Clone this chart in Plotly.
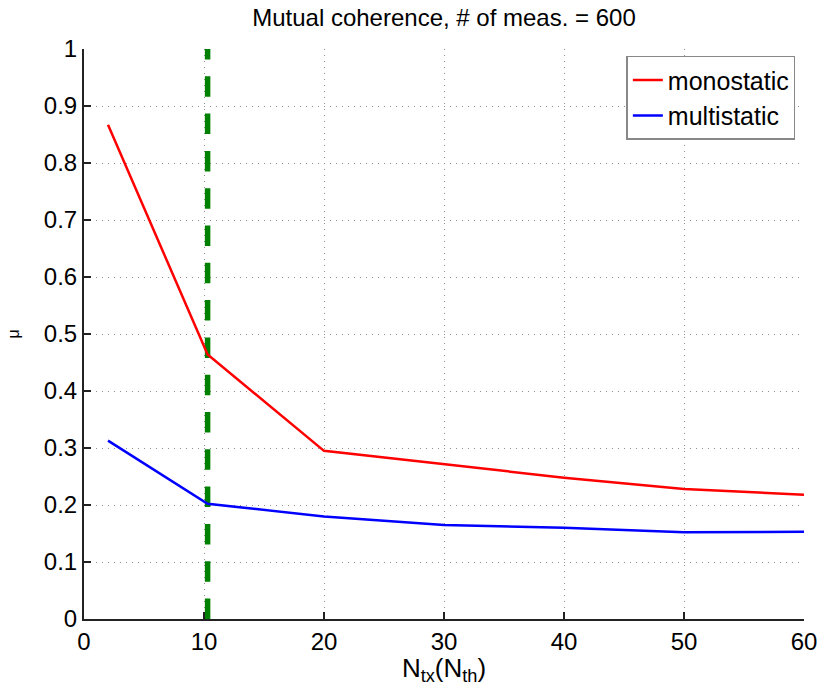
import plotly.graph_objects as go

x_vals = [2, 10.3, 20, 30, 40, 50, 60]
mono = [0.867, 0.464, 0.295, 0.272, 0.248, 0.228, 0.218]
multi = [0.313, 0.202, 0.180, 0.165, 0.160, 0.152, 0.153]
thr_x = [10.3, 10.3]
thr_y = [0, 1]
x_ticks = [0, 10, 20, 30, 40, 50, 60]
y_ticks = [0, 0.1, 0.2, 0.3, 0.4, 0.5, 0.6, 0.7, 0.8, 0.9, 1]
y_ticktext = ["0", "0.1", "0.2", "0.3", "0.4", "0.5", "0.6", "0.7", "0.8", "0.9", "1"]

FONT = "Liberation Sans, Arial, sans-serif"

fig = go.Figure()
fig.add_trace(go.Scatter(x=thr_x, y=thr_y, mode="lines", showlegend=False,
                         line=dict(color="#008000", width=5.5, dash="20.5px,16.8px")))
fig.add_trace(go.Scatter(x=x_vals, y=mono, mode="lines", name="monostatic",
                         line=dict(color="#ff0000", width=2.5)))
fig.add_trace(go.Scatter(x=x_vals, y=multi, mode="lines", name="multistatic",
                         line=dict(color="#0000ff", width=2.5)))

axis_common = dict(
    showgrid=True, gridcolor="#909090", griddash="1px,5px", gridwidth=1,
    showline=True, linecolor="#222222", linewidth=2,
    ticks="inside", ticklen=7, tickwidth=1.5, tickcolor="#222222",
    zeroline=False, mirror=False,
    tickfont=dict(family=FONT, size=24, color="black"),
)

fig.update_layout(
    width=829, height=686,
    margin=dict(l=84, r=16, t=49, b=64),
    paper_bgcolor="white", plot_bgcolor="white",
    title=dict(text="Mutual coherence, # of meas. = 600", x=0.5, xref="paper",
               xanchor="center", y=0.975, yanchor="middle",
               font=dict(family=FONT, size=24, color="black")),
    xaxis=dict(range=[0, 60], tickvals=x_ticks,
               title=dict(text="N<sub>tx</sub>(N<sub>th</sub>)", standoff=1,
                          font=dict(family=FONT, size=26, color="black")),
               **axis_common),
    yaxis=dict(range=[0, 1], tickvals=y_ticks, ticktext=y_ticktext,
               title=dict(text="μ", standoff=20,
                          font=dict(family=FONT, size=16, color="black")),
               **axis_common),
    legend=dict(x=0.988, y=0.988, xanchor="right", yanchor="top",
                bgcolor="white", bordercolor="#888888", borderwidth=1.5,
                font=dict(family=FONT, size=25, color="black"),
                tracegroupgap=0),
    showlegend=True,
)

fig.write_html("out.html")
